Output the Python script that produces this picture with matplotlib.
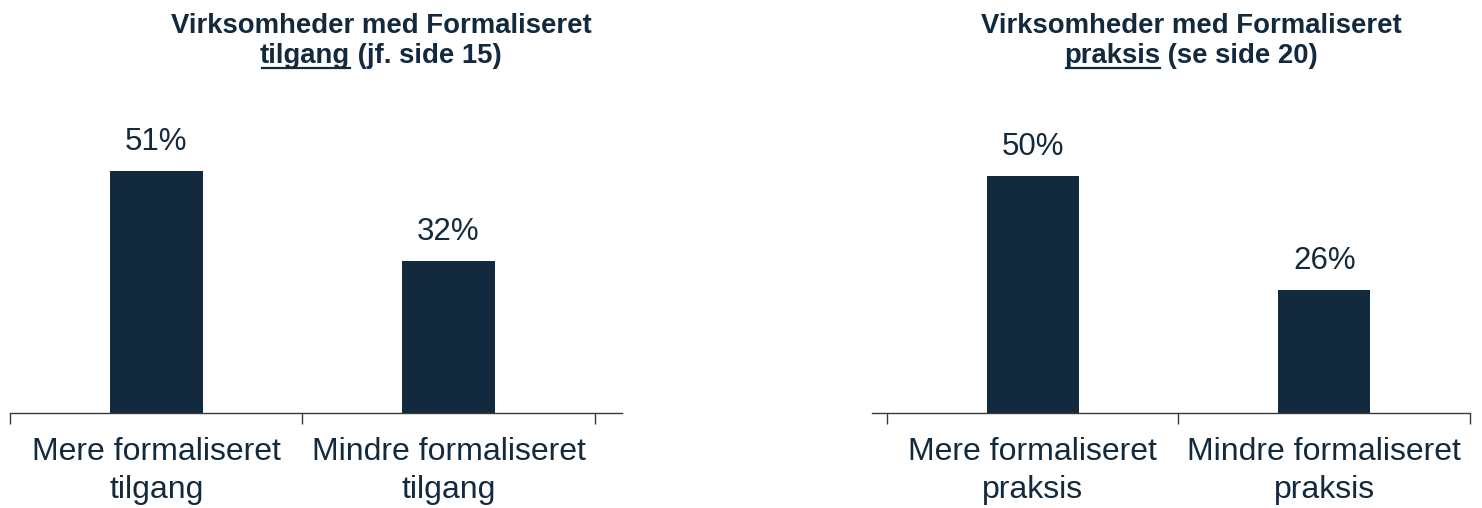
import matplotlib
matplotlib.use("Agg")
import matplotlib.pyplot as plt
from matplotlib.lines import Line2D

plt.rcParams['font.family'] = ['Liberation Sans', 'DejaVu Sans']

NAVY = "#13293d"

# ---- data ----
titles_line1 = ["Virksomheder med Formaliseret", "Virksomheder med Formaliseret"]
titles_word = ["tilgang", "praksis"]
titles_rest = [" (jf. side 15)", " (se side 20)"]
cats_left = ["Mere formaliseret\ntilgang", "Mindre formaliseret\ntilgang"]
cats_right = ["Mere formaliseret\npraksis", "Mindre formaliseret\npraksis"]
vals_left = [51, 32]
vals_right = [50, 26]

W, H = 1482, 508
fig = plt.figure(figsize=(W / 100, H / 100), dpi=100)

ax_bottom = 95 / H
ax_h = 313 / H
axL = fig.add_axes([10 / W, ax_bottom, 612 / W, ax_h])
axR = fig.add_axes([872 / W, ax_bottom, 598 / W, ax_h])

def style(ax, cats, vals, xlim):
    x = list(range(len(cats)))
    bars = ax.bar(x, vals, width=0.317, color=NAVY)
    for b, v in zip(bars, vals):
        ax.annotate(f"{v}%", (b.get_x() + b.get_width() / 2, b.get_height()),
                    xytext=(0, 10), textcoords="offset points",
                    ha="center", va="bottom", fontsize=22.5, color=NAVY)
    ax.set_ylim(0, 313 / 4.75)
    ax.set_xlim(*xlim)
    for s in ["top", "right", "left"]:
        ax.spines[s].set_visible(False)
    ax.spines["bottom"].set_color("#3a3a3a")
    ax.spines["bottom"].set_linewidth(1.0)
    ax.set_yticks([])
    ax.set_xticks(x)
    ax.set_xticklabels(cats, fontsize=23, color=NAVY, linespacing=1.35)
    ax.tick_params(axis="x", which="major", length=0, pad=17)
    ax.set_xticks([-0.5, 0.5, 1.5], minor=True)
    ax.tick_params(axis="x", which="minor", length=8, width=1.0, color="#3a3a3a")

style(axL, cats_left, vals_left, (-0.5, 1.5 + 27 / 290))
style(axR, cats_right, vals_right, (-0.5 - 15 / 292, 1.5))

# ---- titles ----
title_fs = 19.8
centers = [381, 1191]
fig.canvas.draw()
r = fig.canvas.get_renderer()
for cx, l1, word, rest in zip(centers, titles_line1, titles_word, titles_rest):
    fig.text(cx / W, 1 - 33 / H, l1, ha="center", va="baseline",
             fontsize=title_fs, fontweight="bold", color=NAVY)
    t1 = fig.text(0, 1 - 63 / H, word, ha="left", va="baseline",
                  fontsize=title_fs, fontweight="bold", color=NAVY)
    t2 = fig.text(0, 1 - 63 / H, rest, ha="left", va="baseline",
                  fontsize=title_fs, fontweight="bold", color=NAVY)
    w1 = t1.get_window_extent(r).width
    w2 = t2.get_window_extent(r).width
    x0 = cx - (w1 + w2) / 2
    t1.set_x(x0 / W)
    t2.set_x((x0 + w1) / W)
    fig.add_artist(Line2D([(x0 + 2) / W, (x0 + w1) / W], [1 - 68 / H, 1 - 68 / H],
                          transform=fig.transFigure, color=NAVY, linewidth=1.6))

fig.savefig("out.png", dpi=100)
